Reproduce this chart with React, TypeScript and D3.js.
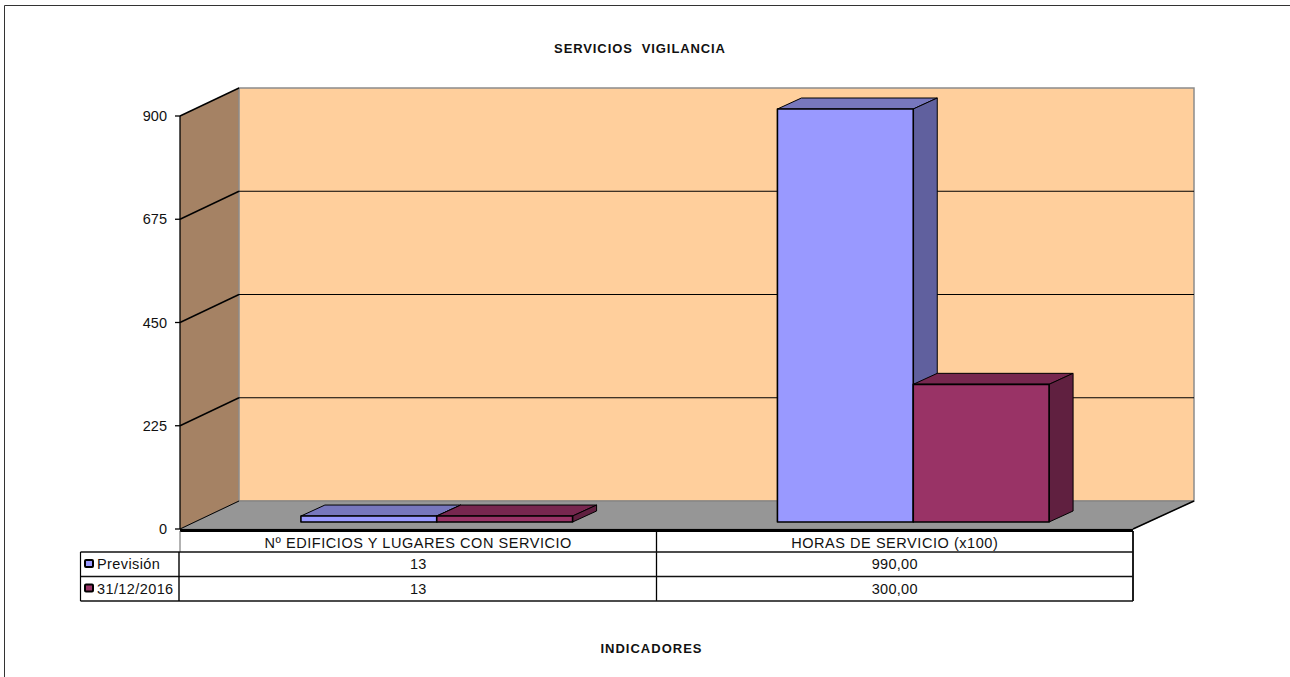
import { useMemo } from "react";
import * as d3 from "d3";

const title = "SERVICIOS  VIGILANCIA";
const xTitle = "INDICADORES";
const categories = ["Nº EDIFICIOS Y LUGARES CON SERVICIO", "HORAS DE SERVICIO (x100)"];
const seriesNames = ["Previsión", "31/12/2016"];
const previsionValues = [13, 990];
const cierreValues = [13, 300];
const previsionLabels = ["13", "990,00"];
const cierreLabels = ["13", "300,00"];
const yTicks = [0, 225, 450, 675, 900];

const seriesColors = [
	{ front: "#9999ff", top: "#7777bd", side: "#60609e", edge: "#000000" },
	{ front: "#993366", top: "#77274f", side: "#602040", edge: "#000000" },
];

const App = () => {
	// front plane of the floor and how far the back wall is pushed
	const frontLeft = 180;
	const frontRight = 1133;
	const depthX = 59;
	const depthY = 28;
	const barDepthX = 24;
	const barDepthY = 11;

	const y = useMemo(() => d3.scaleLinear().domain([0, 900]).range([529, 116]), []);
	const x0 = useMemo(
		() => d3.scaleBand<string>().domain(categories).range([frontLeft, frontRight]),
		[],
	);
	const x1 = useMemo(
		() =>
			d3
				.scaleBand<string>()
				.domain(seriesNames)
				.range([0, x0.bandwidth()])
				.paddingInner(0)
				.paddingOuter(0.754),
		[x0],
	);

	const values = [previsionValues, cierreValues];
	const rowLabels = [previsionLabels, cierreLabels];

	const poly = d3.line();
	const wallTop = y(900) - depthY;
	const wallBottom = y(0) - depthY;
	const backLeft = frontLeft + depthX;
	const backRight = frontRight + depthX + 2;

	// bars sit a little behind the front plane of the floor
	const barBase = y(0) - 7;
	const barShift = 18.5;
	const barH = (v: number) => y(0) - y(Math.min(v, 900));

	const rowY = [531, 552, 576.5, 601];
	const font = "'Liberation Sans', Arial, sans-serif";
	const tableSize = 14.5;
	const tableSpacing = 0.55;

	return (
		<svg
			width={1290}
			height={677}
			style={{ position: "absolute", left: 0, top: 0, background: "#fff" }}
			fontFamily={font}
		>
			<path d="M4.5,677V5.5H1290" fill="none" stroke="#333" strokeWidth={1} />

			<text
				x={640}
				y={53}
				textAnchor="middle"
				fontSize={13}
				fontWeight="bold"
				letterSpacing={0.9}
				xmlSpace="preserve"
				fill="#111"
			>
				{title}
			</text>

			{/* walls */}
			<path
				d={poly([
					[frontLeft, y(0)],
					[frontLeft, y(900)],
					[backLeft, wallTop],
					[backLeft, wallBottom],
				])! + "Z"}
				fill="#a58264"
			/>
			<rect
				x={backLeft}
				y={wallTop}
				width={backRight - backLeft}
				height={wallBottom - wallTop}
				fill="#ffcf9c"
				stroke="#8c8c8c"
				strokeWidth={1.5}
			/>
			<path
				d={poly([
					[frontLeft, y(0)],
					[backLeft, wallBottom],
					[backRight, wallBottom],
					[frontRight, y(0)],
				])! + "Z"}
				fill="#969696"
				stroke="#666"
				strokeWidth={0.5}
			/>
			<line x1={backRight} x2={frontRight} y1={wallBottom} y2={y(0)} stroke="#000" strokeWidth={1.5} />
			<line x1={frontLeft} x2={backLeft} y1={y(0)} y2={wallBottom} stroke="#000" strokeWidth={1} />

			{/* gridlines on both walls */}
			{yTicks.slice(1).map((t) => (
				<g key={t} stroke="#000" fill="none">
					<path
						d={
							poly([
								[frontLeft, y(t)],
								[backLeft, y(t) - depthY],
							])!
						}
						strokeWidth={1.4}
					/>
					{t < 900 && (
						<line x1={backLeft} x2={backRight} y1={y(t) - depthY} y2={y(t) - depthY} strokeWidth={1.2} />
					)}
				</g>
			))}

			{/* bars */}
			{categories.map((cat, i) =>
				seriesNames.map((name, s) => {
					const left = x0(cat)! + x1(name)! + barShift;
					const right = left + x1.bandwidth();
					const h = barH(values[s][i]);
					const top = barBase - h;
					const c = seriesColors[s];
					return (
						<g key={cat + name} stroke={c.edge} strokeWidth={1} strokeLinejoin="round">
							<path
								d={poly([
									[left, top],
									[left + barDepthX, top - barDepthY],
									[right + barDepthX, top - barDepthY],
									[right, top],
								])! + "Z"}
								fill={c.top}
							/>
							<path
								d={poly([
									[right, top],
									[right + barDepthX, top - barDepthY],
									[right + barDepthX, barBase - barDepthY],
									[right, barBase],
								])! + "Z"}
								fill={c.side}
							/>
							<rect x={left} y={top} width={x1.bandwidth()} height={h} fill={c.front} strokeWidth={1.6} />
						</g>
					);
				}),
			)}

			{/* y axis */}
			<line x1={frontLeft} x2={frontLeft} y1={y(900)} y2={y(0)} stroke="#000" strokeWidth={1.3} />
			{yTicks.map((t) => (
				<g key={t}>
					<line x1={frontLeft - 5} x2={frontLeft} y1={y(t)} y2={y(t)} stroke="#000" strokeWidth={1.3} />
					<text x={167} y={y(t) + 5} textAnchor="end" fontSize={tableSize} fill="#111">
						{t}
					</text>
				</g>
			))}

			{/* data table */}
			<line x1={frontLeft} x2={frontRight} y1={530.5} y2={530.5} stroke="#000" strokeWidth={3} />
			<line x1={frontLeft} x2={frontLeft} y1={531} y2={552} stroke="#666" />
			<line x1={frontRight} x2={frontRight} y1={531} y2={601} stroke="#000" strokeWidth={1.3} />
			{categories.map((cat) => (
				<g key={cat}>
					<line
						x1={x0(cat)! + x0.bandwidth()}
						x2={x0(cat)! + x0.bandwidth()}
						y1={531}
						y2={601}
						stroke="#000"
						strokeWidth={1.3}
					/>
					<text
						x={x0(cat)! + x0.bandwidth() / 2}
						y={548}
						textAnchor="middle"
						fontSize={tableSize}
						letterSpacing={tableSpacing}
						fill="#111"
					>
						{cat}
					</text>
				</g>
			))}
			{rowY.slice(1).map((ry) => (
				<line key={ry} x1={80.5} x2={frontRight} y1={ry} y2={ry} stroke="#111" strokeWidth={1.3} />
			))}
			<line x1={80.5} x2={80.5} y1={rowY[1]} y2={rowY[3]} stroke="#000" strokeWidth={1.2} />
			<line x1={179} x2={179} y1={rowY[1]} y2={rowY[3]} stroke="#000" strokeWidth={1.4} />
			{seriesNames.map((name, s) => (
				<g key={name}>
					<rect
						x={85}
						y={rowY[s + 1] + 8}
						width={8}
						height={7}
						rx={1}
						fill={seriesColors[s].front}
						stroke="#000"
						strokeWidth={2}
					/>
					<text x={97} y={rowY[s + 1] + 17} fontSize={tableSize} letterSpacing={0.4} fill="#111">
						{name}
					</text>
					{categories.map((cat, i) => (
						<text
							key={cat}
							x={x0(cat)! + x0.bandwidth() / 2}
							y={rowY[s + 1] + 17}
							textAnchor="middle"
							fontSize={tableSize}
							letterSpacing={0.3}
							fill="#111"
						>
							{rowLabels[s][i]}
						</text>
					))}
				</g>
			))}

			<text
				x={651.5}
				y={653}
				textAnchor="middle"
				fontSize={13}
				fontWeight="bold"
				letterSpacing={1}
				fill="#111"
			>
				{xTitle}
			</text>
		</svg>
	);
};

export default App;
